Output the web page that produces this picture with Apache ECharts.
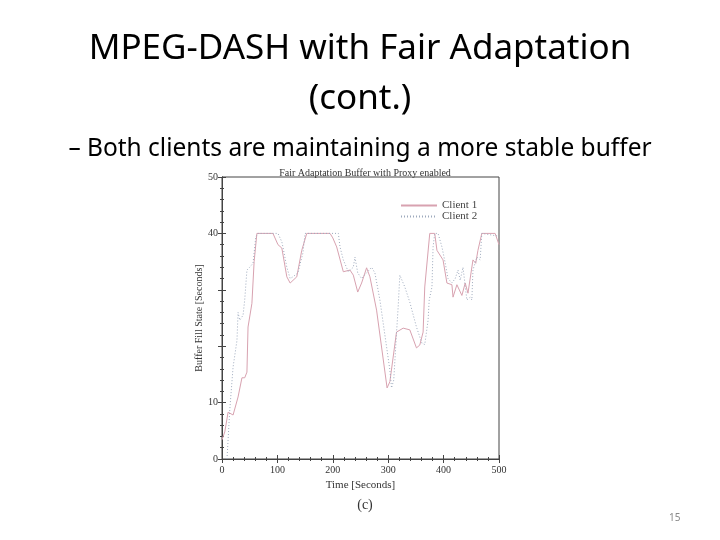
<!DOCTYPE html>
<html>
<head>
<meta charset="utf-8">
<script src="https://cdn.jsdelivr.net/npm/echarts@6/dist/echarts.min.js"></script>
<style>html,body{margin:0;padding:0;background:#fff;}#c{width:720px;height:540px;}</style>
</head>
<body>
<div id="c"></div>
<script>
// Client 1 (solid)
var c1Time = [0,5,11,20,29,36,41,45,47,54,58,63,92,101,108,117,123,135,144,153,195,200,207,219,231,237,245,252,261,267,279,298,303,315,327,339,351,357,363,366,375,384,388,399,406,415,417,424,433,439,444,453,458,462,469,493,500];
var c1Value = [3.4,4.8,8.3,7.8,11,14.4,14.4,15.4,23.4,27.6,35,40,40,38,37.4,32.3,31.2,32.3,37,40,40,39.2,37.6,33.2,33.5,32.6,29.6,31.2,33.9,32.3,26.4,12.6,13.7,22.5,23.2,22.9,19.7,20.2,22.5,30.5,40,40,37,35.3,31.2,30.9,28.7,30.9,29,31.2,29.4,35.3,34.7,37,40,40,38];
// Client 2 (dotted)
var c2Time = [9,11,14,20,27,29,32,38,41,45,50,56,61,65,101,108,110,117,123,128,137,146,150,210,213,219,228,237,240,245,252,261,270,276,285,303,306,310,315,318,321,330,339,351,361,366,372,374,379,381,384,390,397,403,408,415,421,426,430,435,442,448,451,453,460,466,469,500];
var c2Value = [0,3.4,8.7,16.3,21,26,24.6,25.5,28.2,33.5,34,34.7,39.4,40,40,38.5,37.6,34,32,32.3,33,36.5,40,40,37.6,35.3,33.2,34,35.8,33,32,33,34,33,28.2,15.8,12.6,14,22.3,27,32.6,30.5,27.8,23.4,20.5,20.3,24.6,28.2,30.5,37.6,40,40,37.6,34.7,32,31.2,32,33.5,31.7,34,28.2,28.7,28.2,33.5,35.8,35.3,40,39.5];
var seriesNames = ['Client 1','Client 2'];
var yShownLabels = [0,10,40,50];

function pairs(t, v){ return t.map(function(x,i){ return [x, v[i]]; }); }

var serif = 'Liberation Serif';
var axisCol = '#444';
var chart = echarts.init(document.getElementById('c'));
var tickCommon = {show:true, inside:true, length:4, lineStyle:{color:axisCol}};
var minorCommon = {show:true, splitNumber:5, length:2, lineStyle:{color:axisCol}};
chart.setOption({
  animation:false,
  backgroundColor:'#fff',
  title:[
    {text:'MPEG-DASH with Fair Adaptation\n(cont.)', left:'center', top:19,
     textStyle:{fontFamily:'Noto Sans', fontSize:35, fontWeight:'normal', color:'#000', lineHeight:50}},
    {text:'– Both clients are maintaining a more stable buffer', left:'center', top:132,
     textStyle:{fontFamily:'Noto Sans', fontSize:24.5, fontWeight:'normal', color:'#000'}},
    {text:'Fair Adaptation Buffer with Proxy enabled', left:360, textAlign:'center', top:163,
     textStyle:{fontFamily:serif, fontSize:10, fontWeight:'normal', color:'#333'}},
    {text:'(c)', left:360, textAlign:'center', top:493,
     textStyle:{fontFamily:serif, fontSize:14, fontWeight:'normal', color:'#333'}},
    {text:'15', left:664, top:508,
     textStyle:{fontFamily:'Noto Sans', fontSize:10, fontWeight:'normal', color:'#888'}}
  ],
  legend:{
    orient:'vertical', left:395, top:195, itemWidth:36, itemHeight:11, itemGap:0,
    itemStyle:{opacity:0},
    textStyle:{fontFamily:serif, fontSize:11, lineHeight:11, color:'#444'},
    data:seriesNames
  },
  grid:{left:222, right:221, top:177, bottom:81, show:true, borderColor:axisCol, borderWidth:1},
  xAxis:[
    {type:'value', min:0, max:500, interval:100, position:'bottom',
     name:'Time [Seconds]', nameLocation:'middle', nameGap:21,
     nameTextStyle:{fontFamily:serif, fontSize:11, color:'#333'},
     axisLine:{show:true, lineStyle:{color:axisCol}},
     axisTick:tickCommon, minorTick:minorCommon, splitLine:{show:false},
     axisLabel:{fontFamily:serif, fontSize:10, color:'#333', margin:6}},
    {type:'value', min:0, max:500, interval:100, position:'top',
     axisLine:{show:true, lineStyle:{color:axisCol}},
     axisTick:tickCommon, minorTick:minorCommon, splitLine:{show:false},
     axisLabel:{show:false}}
  ],
  yAxis:[
    {type:'value', min:0, max:50, interval:10, position:'left',
     name:'Buffer Fill State [Seconds]', nameLocation:'middle', nameGap:17,
     nameTextStyle:{fontFamily:serif, fontSize:10, color:'#333'},
     axisLine:{show:true, lineStyle:{color:axisCol}},
     axisTick:tickCommon, minorTick:minorCommon, splitLine:{show:false},
     axisLabel:{fontFamily:serif, fontSize:10, color:'#333', margin:4,
       formatter:function(v){ return yShownLabels.indexOf(v) >= 0 ? String(v) : ''; }}},
    {type:'value', min:0, max:50, interval:10, position:'right',
     axisLine:{show:true, lineStyle:{color:axisCol}},
     axisTick:tickCommon, minorTick:minorCommon, splitLine:{show:false},
     axisLabel:{show:false}}
  ],
  series:[
    {name:seriesNames[0], type:'line', data:pairs(c1Time, c1Value), showSymbol:false, symbol:'none',
     lineStyle:{color:'#d8a2b0', width:1, type:'solid'}, itemStyle:{color:'#d8a2b0'}},
    {name:seriesNames[1], type:'line', data:pairs(c2Time, c2Value), showSymbol:false, symbol:'none',
     lineStyle:{color:'#9eaabd', width:1, type:[1,2]}, itemStyle:{color:'#9eaabd'}}
  ]
});
</script>
</body>
</html>
